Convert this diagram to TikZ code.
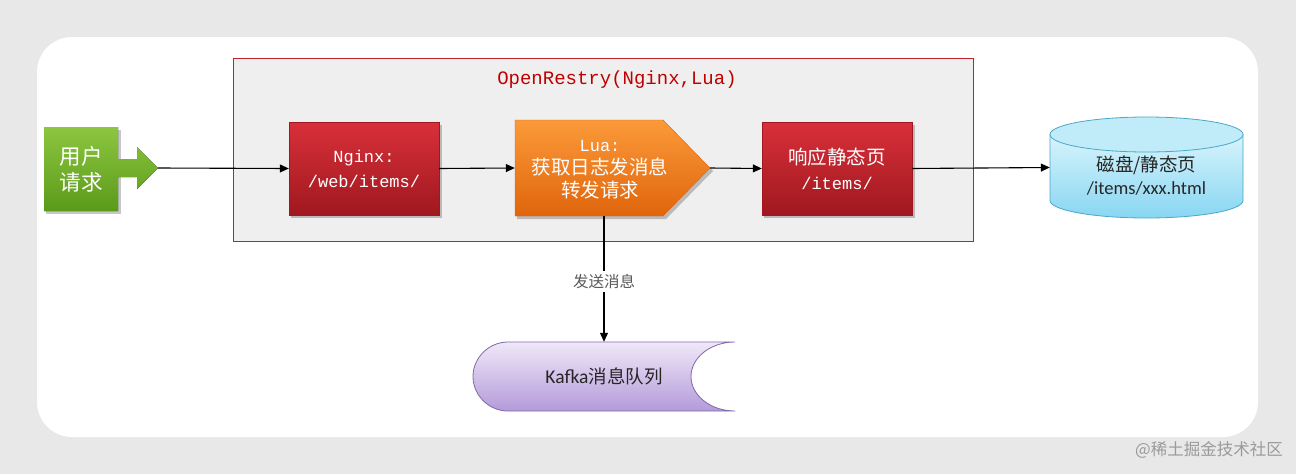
\documentclass[tikz,border=0pt]{standalone}
\usepackage{fontspec}
\setmainfont{Carlito}
\newfontfamily\cjkfont{Noto Sans CJK SC}
\newfontfamily\monofont{Liberation Mono}
\usetikzlibrary{arrows.meta}
\definecolor{bgout}{HTML}{E8E8E8}
\definecolor{framefill}{HTML}{EFEFEF}
\definecolor{framedraw}{HTML}{C0202A}
\definecolor{titlered}{HTML}{C00000}
\definecolor{gtop}{HTML}{8DC63F}
\definecolor{gbot}{HTML}{5A9A1A}
\definecolor{rtop}{HTML}{D8303A}
\definecolor{rbot}{HTML}{A0181E}
\definecolor{otop}{HTML}{FB9A3A}
\definecolor{obot}{HTML}{E0650C}
\definecolor{ctop}{HTML}{D8F4FC}
\definecolor{cbot}{HTML}{88D6F2}
\definecolor{cdraw}{HTML}{4AA8C8}
\definecolor{ktop}{HTML}{F0E8F8}
\definecolor{kbot}{HTML}{B49ADA}
\definecolor{kdraw}{HTML}{7F6AA8}
\definecolor{lblgray}{HTML}{595959}
\definecolor{wmgray}{HTML}{9A9A9A}
\tikzset{
  redbox/.style={rectangle, top color=rtop, bottom color=rbot, draw=rbot, line width=0.4pt,
    minimum width=150pt, minimum height=93pt, text=white, align=center},
  conn/.style={draw=black, line width=1.1pt, -{Triangle[length=9pt,width=8pt]}},
  softshadow/.style={fill=black, opacity=0.22},
}
\begin{document}
\begin{tikzpicture}[x=1pt,y=-1pt]
\useasboundingbox (0,0) rectangle (1296,474);
\fill[bgout] (0,0) rectangle (1296,474);
\fill[white, rounded corners=35pt] (37,37) rectangle (1258,437);

% OpenRestry frame
\node (frame) [draw=framedraw, fill=framefill, line width=0.8pt, minimum width=740pt, minimum height=183pt, anchor=north west, inner sep=0pt] at (233,58) {};
\node (title) [text=titlered, font=\monofont\fontsize{19}{22}\selectfont, inner sep=0pt] at (617,80) {OpenRestry(Nginx,Lua)};

% user request
\fill[softshadow] (46,130) rectangle (121,214);
\fill[top color=gtop, bottom color=gbot]
  (44,127) -- (118,127) -- (118,159) -- (137,159) -- (137,147) -- (158,168) -- (137,189) -- (137,177)
  -- (118,177) -- (118,211) -- (44,211) -- cycle;
\node (user) [minimum width=74pt, minimum height=84pt, text=white, align=center, inner sep=0pt,
  font=\cjkfont\fontsize{21.5}{26}\selectfont] at (81,169) {用户\\请求};
\coordinate (utip) at (158,168);

% Nginx
\fill[softshadow] (291,125) rectangle (442,218);
\node (nginx) [redbox, font=\monofont\fontsize{17}{25}\selectfont] at (364,168.5) {Nginx:\\/web/items/};

% Lua
\fill[softshadow] (517,123) -- (666,123) -- (713,171) -- (666,219) -- (517,219) -- cycle;
\shade[top color=otop, bottom color=obot, draw=obot, line width=0.4pt]
  (515,120) -- (663,120) -- (710,168) -- (663,216) -- (515,216) -- cycle;
\node (lua) [minimum width=195pt, minimum height=96pt, inner sep=0pt] at (612.5,168) {};
\node (luatext) [text=white, align=center, inner sep=0pt, font=\cjkfont\fontsize{19.5}{23}\selectfont] at (600,170)
  {{\monofont\fontsize{17}{23}\selectfont Lua:}\\获取日志发消息\\转发请求};

% response
\fill[softshadow] (764,125) rectangle (915,218);
\node (resp) [redbox, font=\cjkfont\fontsize{19.5}{25}\selectfont] at (837,168.5) {响应静态页\\{\monofont\fontsize{17}{25}\selectfont /items/}};

% cylinder
\shade[top color=ctop, bottom color=cbot, draw=cdraw, line width=0.8pt]
  (1050,134.5) -- (1050,200.5) .. controls (1050,210.2) and (1093.2,218) .. (1146.5,218)
  .. controls (1199.8,218) and (1243,210.2) .. (1243,200.5) -- (1243,134.5) -- cycle;
\draw[fill=ctop!70!cbot, draw=cdraw, line width=0.8pt] (1146.5,134.5) ellipse [x radius=96.5, y radius=17.5];
\node (disk) [minimum width=193pt, minimum height=101pt, inner sep=0pt] at (1146.5,167.5) {};
\node (disktext) [inner sep=0pt, align=center, text=black!85, font=\fontsize{18.5}{23}\selectfont] at (1146.5,176)
  {{\cjkfont 磁盘/静态页}\\/items/xxx.html};

% kafka
\shade[top color=ktop, bottom color=kbot, draw=kdraw, line width=0.8pt]
  (735,342) -- (508,342) .. controls (489,342) and (473,357.5) .. (473,376.5)
  .. controls (473,395.5) and (489,411) .. (508,411) -- (735,411)
  .. controls (710.7,411) and (691,395.5) .. (691,376.5)
  .. controls (691,357.5) and (710.7,342) .. (735,342) -- cycle;
\node (kafka) [minimum width=262pt, minimum height=69pt, inner sep=0pt, text=black!85] at (604,376.5)
  {{\fontsize{19.5}{22}\selectfont Kafka}{\cjkfont\fontsize{18.5}{22}\selectfont 消息队列}};

% connectors
\draw[conn] (utip) -- (nginx.west);
\draw[conn] (nginx.east) -- (lua.west);
\draw[conn] (lua.east) -- (resp.west);
\draw[conn] (resp.east) -- (disk.west);
\draw[conn] (kafka.north |- lua.south) -- node[fill=white, inner sep=3pt, text=lblgray, font=\cjkfont\fontsize{15.5}{18}\selectfont, pos=0.52] {发送消息} (kafka.north);

% watermark
\node (wm) [text=wmgray, font=\cjkfont\fontsize{16.5}{18}\selectfont, inner sep=0pt] at (1209,450) {@稀土掘金技术社区};
\end{tikzpicture}
\end{document}
